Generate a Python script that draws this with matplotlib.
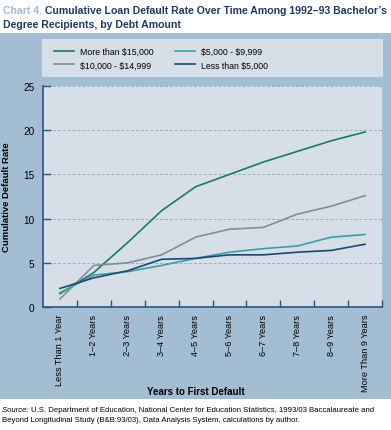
import matplotlib.pyplot as plt
from matplotlib.patches import Rectangle
from matplotlib.lines import Line2D

# data
categories = ['Less Than 1 Year', '1\u20132 Years', '2\u20133 Years', '3\u20134 Years', '4\u20135 Years',
              '5\u20136 Years', '6\u20137 Years', '7\u20138 Years', '8\u20139 Years', 'More Than 9 Years']
more_15000 = [1.5, 3.9, 7.3, 10.9, 13.6, 15.0, 16.4, 17.6, 18.8, 19.8]
d5000_9999 = [1.6, 3.6, 4.0, 4.7, 5.5, 6.2, 6.6, 6.9, 7.9, 8.2]
d10000_14999 = [0.9, 4.7, 5.0, 5.9, 7.9, 8.8, 9.0, 10.5, 11.4, 12.6]
less_5000 = [2.1, 3.3, 4.1, 5.4, 5.5, 5.9, 5.9, 6.2, 6.4, 7.1]
yticks = [0, 5, 10, 15, 20, 25]

c_green = '#1c7a62'
c_teal = '#3a9fa6'
c_gray = '#7d9093'
c_navy = '#1d4672'
panel = '#a3bdd3'
inner = '#d6dfe8'
dark = '#2a5580'
font = 'Liberation Sans'

W, H = 391, 431
fig = plt.figure(figsize=(W / 100, H / 100), dpi=100)
renderer = fig.canvas.get_renderer()

# blue background panel
fig.patches.append(Rectangle((0, 1 - 400 / H), 1, (400 - 34) / H, transform=fig.transFigure,
                             facecolor=panel, edgecolor='none', zorder=-5))

# title: fit the first line to the figure width, then split the colours
line1 = 'Chart 4. Cumulative Loan Default Rate Over Time Among 1992\u201393 Bachelor\u2019s'
tmp = fig.text(0, 0, line1, fontsize=10, fontweight='bold', family=font)
tsize = 10 * 385 / tmp.get_window_extent(renderer).width
tmp.remove()
t1 = fig.text(3 / W, 1 - 11 / H, 'Chart 4. ', color='#a3bdd3', fontsize=tsize, fontweight='bold',
              family=font, va='center')
x2 = t1.get_window_extent(renderer).x1
fig.text(x2 / W, 1 - 11 / H, 'Cumulative Loan Default Rate Over Time Among 1992\u201393 Bachelor\u2019s',
         color='#1d3a63', fontsize=tsize, fontweight='bold', family=font, va='center')
fig.text(3 / W, 1 - 25 / H, 'Degree Recipients, by Debt Amount',
         color='#1d3a63', fontsize=tsize, fontweight='bold', family=font, va='center')

# legend box
lax = fig.add_axes([42 / W, 1 - 78 / H, 341 / W, 38 / H])
lax.set_facecolor(inner)
lax.set_xticks([])
lax.set_yticks([])
for s in lax.spines.values():
    s.set_visible(False)
handles = [Line2D([], [], color=c_green, lw=1.2), Line2D([], [], color=c_gray, lw=1.2),
           Line2D([], [], color=c_teal, lw=1.2), Line2D([], [], color=c_navy, lw=1.2)]
labels = ['More than \\$15,000', '\\$10,000 - \\$14,999', '\\$5,000 - \\$9,999', 'Less than \\$5,000']
leg = lax.legend(handles, labels, ncol=2, loc='center left', bbox_to_anchor=(0.025, 0.5),
                 frameon=False, handlelength=2.3, handletextpad=0.7, borderaxespad=0,
                 columnspacing=2.4, labelspacing=0.55, prop={'family': font, 'size': 6.3})

# main axes
ax = fig.add_axes([43 / W, 1 - 308 / H, 339 / W, 221 / H])
ax.set_facecolor(inner)
x = range(len(categories))
ax.plot(x, more_15000, color=c_green, lw=1.2)
ax.plot(x, d10000_14999, color=c_gray, lw=1.2)
ax.plot(x, d5000_9999, color=c_teal, lw=1.2)
ax.plot(x, less_5000, color=c_navy, lw=1.2)

ax.set_xlim(-0.5, len(categories) - 0.5)
ax.set_ylim(0, 25)
ax.set_yticks(yticks)
ax.set_yticklabels([str(v) for v in yticks], family=font, fontsize=7.2)
ax.yaxis.grid(True, color='#8fb0cc', linestyle=(0, (3, 2)), lw=0.7)
ax.set_axisbelow(True)
ax.set_xticks(list(x))
ax.set_xticklabels(categories, rotation=90, family=font, fontsize=6.6)
ax.set_xticks([i + 0.5 for i in range(len(categories))], minor=True)
ax.tick_params(axis='x', which='major', length=0, pad=5)
ax.tick_params(axis='x', which='minor', direction='in', length=5, width=1, color=dark)
ax.tick_params(axis='y', direction='in', length=6, width=1, color=dark, pad=6)
for side in ['top', 'right']:
    ax.spines[side].set_visible(False)
ax.spines['left'].set_color(dark)
ax.spines['bottom'].set_color(dark)
ax.spines['left'].set_linewidth(1.2)
ax.spines['bottom'].set_linewidth(1.2)
ax.set_ylabel('Cumulative Default Rate', family=font, fontweight='bold', fontsize=6.8, labelpad=9)
fig.text(0.5, 1 - 392 / H, 'Years to First Default', ha='center', va='center',
         family=font, fontweight='bold', fontsize=7)

# source
s1 = fig.text(2 / W, 1 - 411 / H, 'Source: ', fontstyle='italic', fontsize=5.6, family=font,
              va='center')
sx = s1.get_window_extent(renderer).x1
fig.text(sx / W, 1 - 411 / H, 'U.S. Department of Education, National Center for Education Statistics, '
         '1993/03 Baccalaureate and', fontsize=5.6, family=font, va='center')
fig.text(2 / W, 1 - 421 / H, 'Beyond Longitudinal Study (B&B:93/03), Data Analysis System, calculations by author.',
         fontsize=5.6, family=font, va='center')

fig.savefig('out.png', dpi=100)
